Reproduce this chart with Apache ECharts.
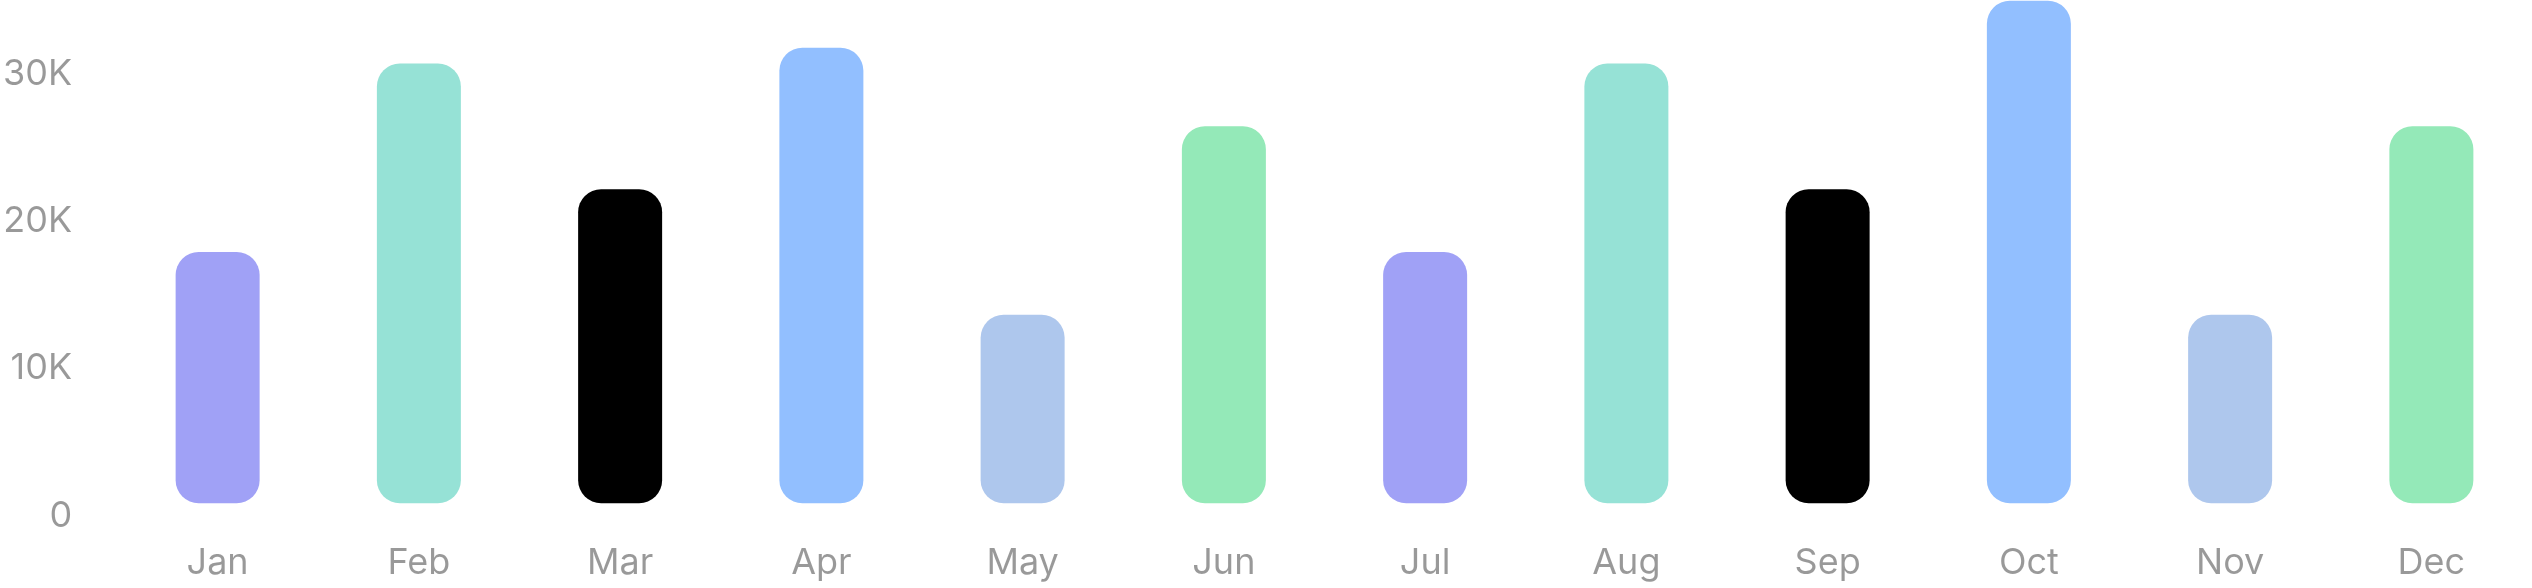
<!DOCTYPE html>
<html>
<head>
<meta charset="utf-8">
<script src="https://cdn.jsdelivr.net/npm/echarts@6/dist/echarts.min.js"></script>
<style>
html,body{margin:0;padding:0;background:#fff;}
#c{width:2532px;height:588px;}
</style>
</head>
<body>
<div id="c"></div>
<script>
const months = ['Jan','Feb','Mar','Apr','May','Jun','Jul','Aug','Sep','Oct','Nov','Dec'];
const values = [16000, 28000, 20000, 29000, 12000, 24000, 16000, 28000, 20000, 32000, 12000, 24000];
const barColors = ['#A0A1F6','#96E2D6','#000000','#92BFFF','#AEC7ED','#94E9B8','#A0A1F6','#96E2D6','#000000','#92BFFF','#AEC7ED','#94E9B8'];
const yTickValues = [0, 10000, 20000, 30000];
const yAxisMax = 35000;
const barAxisMax = 32000;

const labelColor = 'rgba(0,0,0,0.4)';
const font = 'Inter';

const chart = echarts.init(document.getElementById('c'), null, {renderer: 'canvas'});
chart.setOption({
  animation: false,
  backgroundColor: '#ffffff',
  grid: [
    {left: 117, right: 0, top: 0.7, bottom: 84.7},
    {left: 117, right: 0, top: 0.5, bottom: 72.3}
  ],
  xAxis: [
    {
      type: 'category', gridIndex: 0, data: months,
      axisLine: {show: false}, axisTick: {show: false}, splitLine: {show: false},
      axisLabel: {color: labelColor, fontFamily: font, fontSize: 36, margin: 42}
    },
    {
      type: 'category', gridIndex: 1, data: months, show: false
    }
  ],
  yAxis: [
    {
      type: 'value', gridIndex: 0, min: 0, max: barAxisMax, show: false
    },
    {
      type: 'value', gridIndex: 1, min: 0, max: yAxisMax, interval: 10000,
      axisLine: {show: false}, axisTick: {show: false}, splitLine: {show: false},
      axisLabel: {
        color: labelColor, fontFamily: font, fontSize: 36, margin: 49,
        showMaxLabel: false,
        formatter: function (v) {
          if (yTickValues.indexOf(v) < 0) return '';
          return v === 0 ? '0' : (v / 1000) + 'K';
        }
      }
    }
  ],
  series: [{
    type: 'bar',
    xAxisIndex: 0, yAxisIndex: 0,
    barWidth: 84,
    data: values.map((v, i) => ({value: v, itemStyle: {color: barColors[i]}})),
    itemStyle: {borderRadius: 23}
  }]
});
</script>
</body>
</html>
